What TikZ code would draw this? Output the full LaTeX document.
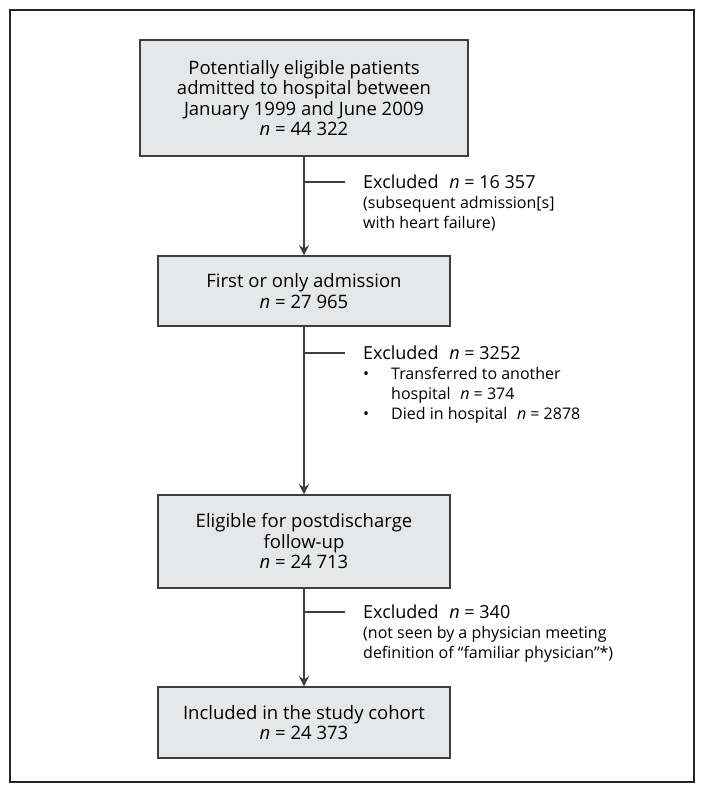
\documentclass[tikz,border=0pt]{standalone}
\usepackage{fontspec}
\setmainfont{Open Sans}
\usetikzlibrary{arrows.meta,positioning}
\definecolor{boxfill}{RGB}{230,231,232}
\definecolor{boxline}{RGB}{62,62,62}
\newcommand{\excluded}[1]{{\fontsize{18}{20}\selectfont Excluded\hspace{0.6em}\textit{n} = #1}}
\newcommand{\bulletitem}{\makebox[28pt][l]{\textbullet}}

\begin{document}
\begin{tikzpicture}[
    x=1pt, y=-1pt,
    stage/.style={draw=boxline, line width=1.5pt, fill=boxfill, align=center, inner sep=0pt,
        minimum width=292pt, font=\fontsize{18.5}{20.5}\selectfont},
    note/.style={anchor=north west, align=left, inner sep=0pt, font=\fontsize{16}{20}\selectfont},
    flow/.style={-{Stealth[length=10pt,width=10pt]}, line width=1.5pt, boxline},
    branch/.style={line width=1.2pt, boxline, shorten >=18pt}
]
    \useasboundingbox (0,0) rectangle (705,793);

    % Frame
    \draw[line width=2pt, black!85] (10,10) rectangle (694,782);

    % Stages
    \node[stage, minimum width=328pt, minimum height=116pt] (admitted) at (304,98)
        {Potentially eligible patients\\admitted to hospital between\\January 1999 and June 2009\\\textit{n} = 44 322};
    \node[stage, minimum height=70pt] (first) at (304,291)
        {First or only admission\\\textit{n} = 27 965};
    \node[stage, minimum height=93pt] (eligible) at (304,541.5)
        {Eligible for postdischarge\\follow-up\\\textit{n} = 24 713};
    \node[stage, minimum height=71pt] (cohort) at (304,722.5)
        {Included in the study cohort\\\textit{n} = 24 373};

    % Flow
    \draw[flow] (admitted) -- (first);
    \draw[flow] (first) -- (eligible);
    \draw[flow] (eligible) -- (cohort);

    % Exclusions
    \coordinate (br1) at (304,182);
    \coordinate (br2) at (304,353);
    \coordinate (br3) at (304,612);

    \node[note] (exc1) at (363,174.5)
        {\excluded{16 357}\\(subsequent admission[s]\\with heart failure)};
    \node[note] (exc2) at (363,345.5)
        {\excluded{3252}\\
         \bulletitem Transferred to another\\
         \hspace*{28pt}hospital\hspace{0.6em}\textit{n} = 374\\
         \bulletitem Died in hospital\hspace{0.6em}\textit{n} = 2878};
    \node[note] (exc3) at (363,604.5)
        {\excluded{340}\\(not seen by a physician meeting\\definition of “familiar physician”*)};

    \draw[branch] (br1) -- (br1 -| exc1.west);
    \draw[branch] (br2) -- (br2 -| exc2.west);
    \draw[branch] (br3) -- (br3 -| exc3.west);
\end{tikzpicture}
\end{document}
